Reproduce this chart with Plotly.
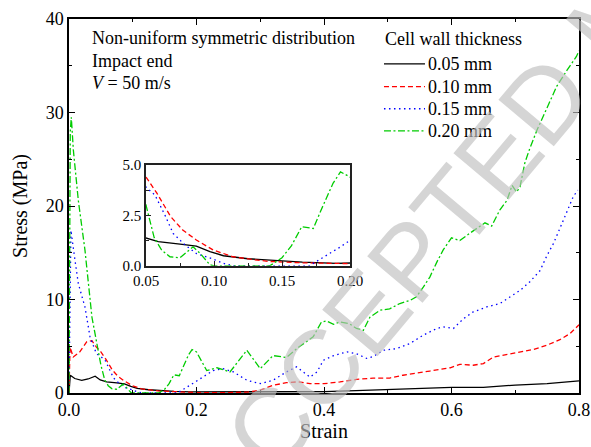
import plotly.graph_objects as go

# ---------------- data ----------------
strain_005 = [0, 0.002, 0.009, 0.02, 0.03, 0.041, 0.049, 0.059, 0.075, 0.087, 0.097, 0.107, 0.125, 0.145,
              0.165, 0.19, 0.2, 0.25, 0.3, 0.35, 0.4, 0.45, 0.5, 0.55, 0.6, 0.65, 0.7, 0.75, 0.8]
stress_005 = [0, 1.9, 1.55, 1.36, 1.5, 1.8, 1.4, 1.2, 1.08, 0.98, 0.7, 0.5, 0.35, 0.25,
              0.18, 0.12, 0.12, 0.1, 0.12, 0.15, 0.15, 0.25, 0.35, 0.5, 0.6, 0.6, 0.85, 1.0, 1.3]

strain_010 = [0, 0.0016, 0.0067, 0.017, 0.028, 0.036, 0.043, 0.05, 0.058, 0.068, 0.077, 0.087, 0.0995, 0.114,
              0.13, 0.14, 0.165, 0.19, 0.2, 0.25, 0.28, 0.30, 0.32, 0.341, 0.36, 0.378, 0.40, 0.425, 0.451,
              0.477, 0.503, 0.524, 0.545, 0.566, 0.598, 0.613, 0.634, 0.65, 0.666, 0.687, 0.708, 0.728,
              0.749, 0.77, 0.786, 0.796, 0.8]
stress_010 = [0, 4.9, 3.85, 4.4, 5.5, 5.6, 4.9, 4.4, 3.6, 2.45, 1.77, 1.28, 0.78, 0.45,
              0.3, 0.22, 0.15, 0.08, 0.05, 0.05, 0.1, 0.3, 0.82, 1.1, 1.2, 1.0, 1.0, 1.18, 1.45,
              1.6, 1.6, 1.9, 2.15, 2.35, 2.7, 3.07, 2.97, 3.15, 3.85, 4.14, 4.4, 4.65,
              5.1, 5.7, 6.36, 7.07, 7.3]

strain_015 = [0, 0.002, 0.003, 0.0094, 0.0146, 0.025, 0.033, 0.043, 0.05, 0.0566, 0.064, 0.07, 0.0787, 0.0873,
              0.098, 0.107, 0.115, 0.17, 0.175, 0.183, 0.193, 0.203, 0.226, 0.242, 0.258, 0.279, 0.30, 0.32,
              0.341, 0.357, 0.378, 0.389, 0.399, 0.415, 0.436, 0.451, 0.467, 0.477, 0.493, 0.514, 0.535,
              0.556, 0.577, 0.587, 0.603, 0.619, 0.634, 0.655, 0.676, 0.692, 0.708, 0.723, 0.739, 0.749,
              0.76, 0.77, 0.781, 0.791, 0.798]
stress_015 = [0, 16, 17.4, 14.2, 11.7, 9.2, 6.0, 4.2, 3.9, 3.5, 2.5, 1.6, 1.03, 0.6,
              0.37, 0.12, 0, 0, 0.2, 0.53, 0.94, 1.4, 2.4, 2.6, 2.25, 1.36, 1.0, 1.36,
              2.25, 2.8, 1.7, 2.25, 3.5, 4.0, 4.4, 4.2, 3.7, 3.9, 4.57, 4.75, 5.3,
              6.2, 6.9, 7.07, 6.9, 7.96, 8.67, 9.2, 9.57, 10.3, 11.0, 11.9, 13.1, 14.6,
              16.0, 17.6, 19.4, 21.0, 21.7]

strain_020 = [0, 0.002, 0.0036, 0.0068, 0.0146, 0.025, 0.036, 0.046, 0.05, 0.056, 0.0615, 0.0676, 0.075,
              0.0846, 0.09, 0.097, 0.10, 0.141, 0.15, 0.157, 0.1645, 0.173, 0.179, 0.1876, 0.193, 0.20,
              0.216, 0.232, 0.2525, 0.279, 0.30, 0.32, 0.341, 0.36, 0.383, 0.396, 0.404, 0.415, 0.425,
              0.44, 0.451, 0.4617, 0.472, 0.488, 0.503, 0.519, 0.535, 0.545, 0.556, 0.566, 0.577, 0.587,
              0.600, 0.613, 0.629, 0.645, 0.6525, 0.663, 0.676, 0.687, 0.695, 0.702, 0.7075, 0.715, 0.722,
              0.734, 0.749, 0.765, 0.781, 0.796, 0.8]
stress_020 = [0, 28, 29.5, 26, 20.6, 15.3, 8.1, 4.6, 3.0, 1.4, 0.78, 0.45, 0.4,
              0.94, 0.6, 0.05, 0, 0, 0.4, 1.0, 1.94, 1.85, 2.8, 4.1, 4.65, 4.4,
              2.4, 2.7, 2.25, 4.57, 2.6, 4.0, 3.8, 4.9, 6.0, 7.6, 7.7, 7.35, 7.6,
              7.4, 6.9, 6.7, 8.1, 8.85, 9.0, 9.57, 9.9, 10.3, 11.35, 12.4, 14.0, 15.3,
              16.6, 16.3, 17.1, 17.8, 18.2, 17.85, 19.6, 20.6, 22.2, 21.5, 22.05, 24.6, 26,
              28.1, 30.3, 32.8, 34.5, 36, 36.6]

series_names = ["0.05 mm", "0.10 mm", "0.15 mm", "0.20 mm"]
series_x = [strain_005, strain_010, strain_015, strain_020]
series_y = [stress_005, stress_010, stress_015, stress_020]

annotation_lines = ["Non-uniform symmetric distribution", "Impact end", "<i>V</i> = 50 m/s"]
legend_title = "Cell wall thickness"

main_xticks = [0.0, 0.2, 0.4, 0.6, 0.8]
main_yticks = [0, 10, 20, 30, 40]
inset_xticks = [0.05, 0.10, 0.15, 0.20]
inset_yticks = [0.0, 2.5, 5.0]

# ---------------- styles ----------------
colors = ["#000000", "#ff0000", "#0000ff", "#00cc00"]
dashes = ["solid", "5px,3px", "1.5px,3.5px", "7px,2.5px,2px,2.5px"]
FONT = "Liberation Serif, Times New Roman, serif"

fig = go.Figure()
for name, xs, ys, c, d in zip(series_names, series_x, series_y, colors, dashes):
    fig.add_trace(go.Scatter(x=xs, y=ys, mode="lines", name=name, showlegend=False,
                             line=dict(color=c, width=1.3, dash=d),
                             xaxis="x", yaxis="y"))
for name, xs, ys, c, d in zip(series_names, series_x, series_y, colors, dashes):
    fig.add_trace(go.Scatter(x=xs, y=ys, mode="lines", name=name, showlegend=False,
                             line=dict(color=c, width=1.3, dash=d),
                             xaxis="x2", yaxis="y2"))

axis_common = dict(showgrid=False, zeroline=False, showline=True, linecolor="black",
                   linewidth=1.5, mirror="ticks", ticks="inside", tickcolor="black",
                   tickwidth=1.3, ticklen=6, automargin=False)
inset_common = dict(showgrid=False, zeroline=False, showline=True, linecolor="#222222", linewidth=1.5,
                    mirror=True, ticks="inside", tickcolor="#222222", ticklen=5, tickwidth=1.2,
                    automargin=False, tickfont=dict(size=15))

fig.update_layout(
    width=591, height=447,
    margin=dict(l=69, r=12, t=19, b=54, autoexpand=False),
    paper_bgcolor="white", plot_bgcolor="white",
    font=dict(family=FONT, size=18, color="black"),
    xaxis=dict(axis_common, domain=[0, 1], range=[0, 0.8], tickvals=main_xticks,
               tickformat=".1f", tickfont=dict(size=18),
               minor=dict(dtick=0.1, ticks="inside", ticklen=3, tickcolor="black", tickwidth=1),
               title=dict(text="Strain", font=dict(size=20), standoff=4)),
    yaxis=dict(axis_common, domain=[0, 1], range=[0, 40], tickvals=main_yticks,
               tickfont=dict(size=18),
               minor=dict(dtick=5, ticks="inside", ticklen=3, tickcolor="black", tickwidth=1),
               title=dict(text="Stress (MPa)", font=dict(size=20), standoff=13)),
    xaxis2=dict(inset_common, domain=[0.151, 0.551], anchor="y2", range=[0.05, 0.20],
                tickvals=inset_xticks, tickformat=".2f",
                minor=dict(dtick=0.025, ticks="inside", ticklen=3, tickcolor="#222222", tickwidth=1)),
    yaxis2=dict(inset_common, domain=[0.340, 0.610], anchor="x2", range=[0, 5],
                tickvals=inset_yticks, tickformat=".1f",
                minor=dict(dtick=1.25, ticks="inside", ticklen=3, tickcolor="#222222", tickwidth=1)),
    showlegend=False,
)

# text block, upper left
ys_ann = [0.949, 0.889, 0.828]
for t, yy in zip(annotation_lines, ys_ann):
    fig.add_annotation(text=t, x=0.041, y=yy, xref="paper", yref="paper",
                       xanchor="left", yanchor="middle", showarrow=False,
                       font=dict(size=18, family=FONT))

# legend (drawn as key lines + labels)
fig.add_annotation(text=legend_title, x=0.615, y=0.946, xref="paper", yref="paper",
                   xanchor="left", yanchor="middle", showarrow=False, font=dict(size=18, family=FONT))
leg_y = [0.880, 0.819, 0.760, 0.701]
for name, c, d, yy in zip(series_names, colors, dashes, leg_y):
    fig.add_shape(type="line", xref="paper", yref="paper", x0=0.6176, x1=0.698, y0=yy, y1=yy,
                  line=dict(color=c, width=1.3, dash=d))
    fig.add_annotation(text=name, x=0.700, y=yy, xref="paper", yref="paper",
                       xanchor="left", yanchor="middle", showarrow=False,
                       font=dict(size=18, family=FONT))

# journal watermark
fig.add_annotation(text="ACCEPTED MANUSCRIPT", x=1.075, y=1.016, xref="paper", yref="paper",
                   xanchor="center", yanchor="middle", showarrow=False, textangle=-50,
                   font=dict(size=105, family="Liberation Sans, Arial, sans-serif",
                             color="rgba(190,190,190,0.65)"))

fig.write_html("out.html")
